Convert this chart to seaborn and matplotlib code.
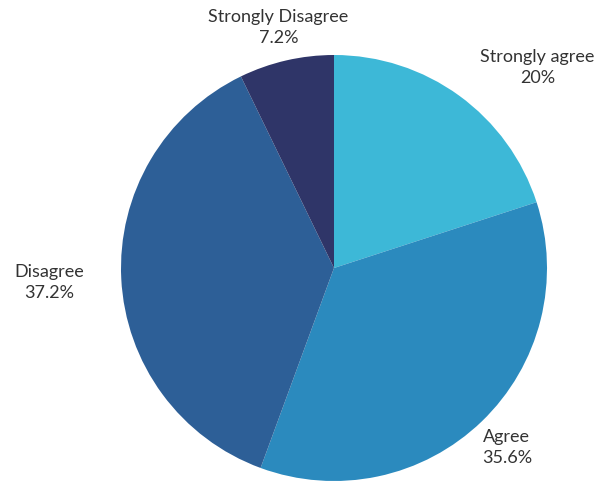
import numpy as np
import matplotlib
matplotlib.use("Agg")
import matplotlib.pyplot as plt
import seaborn as sns

# Survey responses, in clockwise order from 12 o'clock
categories = ["Strongly agree", "Agree", "Disagree", "Strongly Disagree"]
shares = [20.0, 35.6, 37.2, 7.2]
colors = ["#3db8d7", "#2b8abe", "#2d5f97", "#2f3568"]

sns.set_theme(style="white")
plt.rcParams["font.family"] = ["Lato", "DejaVu Sans"]

fig = plt.figure(figsize=(6.11, 4.84), dpi=100)
ax = fig.add_axes([0, 0, 1, 1])

wedges, _ = ax.pie(
    shares,
    colors=colors,
    startangle=90,
    counterclock=False,
    radius=1.0,
    wedgeprops=dict(linewidth=0, antialiased=True),
)

# label placement: distance from centre and small angular nudge per slice
label_radius = [1.34, 1.17, 1.34, 1.16]
label_nudge = [-9.5, 0.0, 0.0, 0.0]
for w, name, val, r, nd in zip(wedges, categories, shares, label_radius, label_nudge):
    mid = np.deg2rad((w.theta1 + w.theta2) / 2 + nd)
    ax.text(r * np.cos(mid), r * np.sin(mid), f"{name}\n{val:g}%",
            ha="center", va="center", fontsize=13, color="#333333",
            linespacing=1.38)

ax.set_xlim(-334 / 213, (611 - 334) / 213)
ax.set_ylim((268 - 484) / 213, 268 / 213)
ax.set_aspect("auto")
ax.axis("off")

fig.savefig("out.png", dpi=100, facecolor="white")
